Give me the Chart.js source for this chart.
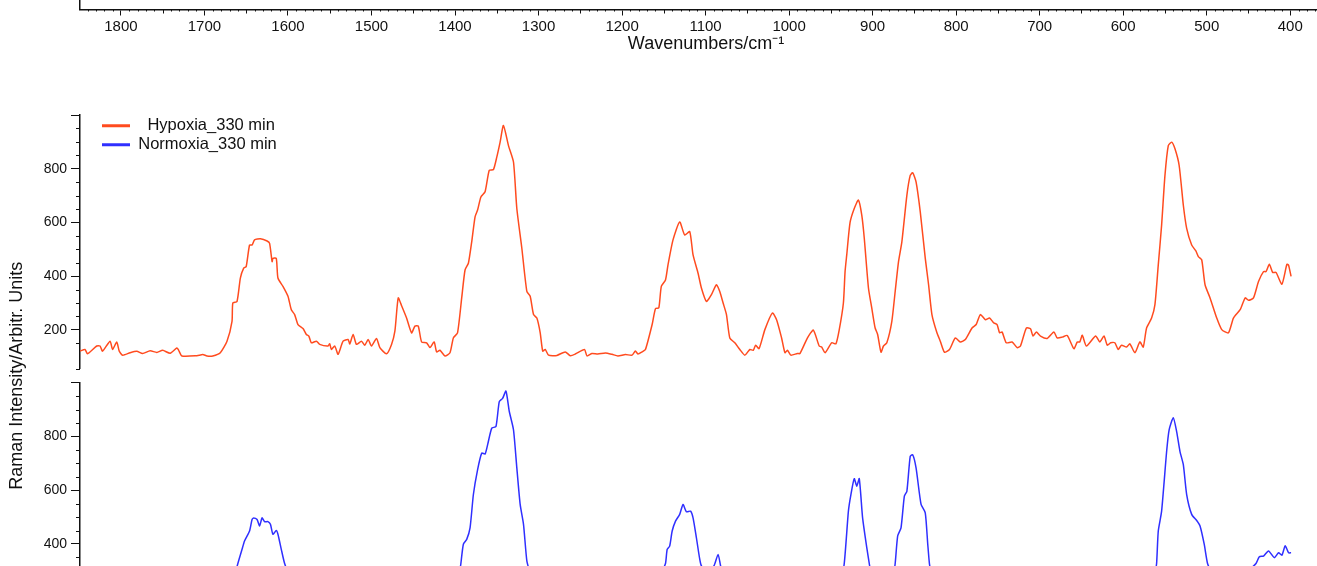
<!DOCTYPE html>
<html>
<head>
<meta charset="utf-8">
<title>Raman spectra</title>
<script src="https://cdn.jsdelivr.net/npm/chart.js@4.4.1/dist/chart.umd.min.js"></script>
<style>
	html, body { margin: 0; padding: 0; background: #fff; }
	body { position: relative; width: 1317px; height: 566px; overflow: hidden; }
	canvas { position: absolute; left: 0; }
	#chart-axis { top: 0; }
	#chart-spectra { top: 0; }
	#chart-legend { top: 115px; }
</style>
</head>
<body>
<canvas id="chart-axis" width="1340" height="60"></canvas>
<canvas id="chart-spectra" width="1340" height="649"></canvas>
<canvas id="chart-legend" width="330" height="80"></canvas>
<script>
//---------------------------------------------------------
// Data
//---------------------------------------------------------
const WAVE_MIN = 350;
const WAVE_MAX = 1849;
const X_LABEL_STEP = 100;

const Y_MIN = 55;
const Y_MAX = 1000;
const Y_LABELS = [200, 400, 600, 800];

const HYPOXIA_LABEL = "  Hypoxia_330 min";
const NORMOXIA_LABEL = "Normoxia_330 min";

const HYPOXIA_WAVE = [
	1849, 1843, 1840, 1829, 1825, 1822, 1813, 1810, 1805, 1802, 1798, 1789, 1781, 1774, 1765, 1757, 1750, 1741, 1733, 1731,
	1727, 1709, 1702, 1697, 1690, 1681, 1673, 1667, 1666, 1661, 1657, 1653, 1650, 1646, 1643, 1640, 1633, 1625, 1622, 1619,
	1618, 1614, 1612, 1606, 1600, 1596, 1592, 1588, 1582, 1578, 1575, 1572, 1566, 1562, 1552, 1550, 1548, 1544, 1540, 1534,
	1528, 1526, 1522, 1518, 1512, 1508, 1504, 1500, 1494, 1490, 1482, 1476, 1472, 1468, 1464, 1458, 1452, 1448, 1444, 1440,
	1434, 1430, 1425, 1422, 1418, 1412, 1406, 1402, 1397, 1392, 1388, 1384, 1380, 1376, 1373, 1369, 1364, 1359, 1354, 1350,
	1346, 1342, 1336, 1330, 1326, 1320, 1314, 1310, 1306, 1302, 1298, 1295, 1292, 1288, 1278, 1268, 1262, 1256, 1245, 1242,
	1236, 1229, 1220, 1212, 1205, 1196, 1188, 1184, 1181, 1176, 1172, 1164, 1160, 1156, 1153, 1148, 1145, 1139, 1131, 1125,
	1119, 1115, 1109, 1105, 1099, 1093, 1087, 1083, 1079, 1075, 1071, 1065, 1059, 1053, 1047, 1043, 1040, 1036, 1029, 1020,
	1015, 1009, 1005, 1002, 998, 990, 987, 978, 971, 964, 961, 957, 949, 944, 940, 935, 933, 931, 927, 922,
	917, 913, 910, 905, 901, 897, 894, 890, 887, 883, 877, 873, 869, 865, 859, 855, 852, 848, 843, 837,
	833, 829, 823, 819, 814, 808, 801, 795, 789, 781, 776, 771, 765, 760, 755, 751, 748, 745, 740, 733,
	727, 723, 716, 711, 708, 704, 699, 691, 683, 679, 673, 667, 659, 655, 652, 649, 644, 633, 628, 623,
	619, 615, 610, 606, 602, 596, 592, 586, 580, 576, 572, 566, 562, 558, 554, 550, 546, 542, 538, 533,
	528, 524, 518, 513, 510, 506, 502, 496, 488, 482, 474, 468, 460, 454, 450, 444, 438, 432, 429, 425,
	421, 417, 410, 404, 402, 399,
];

const HYPOXIA = [
	121, 127, 111, 140, 140, 121, 158, 127, 155, 121, 106, 115, 120, 112, 122, 116, 124, 113, 133, 125,
	103, 104, 108, 103, 103, 115, 158, 232, 300, 306, 393, 430, 436, 516, 516, 535, 539, 531, 522, 454,
	466, 466, 393, 362, 325, 275, 257, 220, 205, 183, 177, 152, 158, 146, 140, 148, 127, 140, 109, 158,
	164, 148, 183, 146, 158, 143, 164, 140, 168, 134, 111, 146, 195, 319, 290, 244, 189, 214, 214, 155,
	152, 134, 155, 118, 124, 103, 115, 170, 189, 319, 423, 448, 528, 621, 646, 695, 714, 794, 797, 843,
	899, 961, 886, 825, 652, 504, 343, 325, 257, 244, 189, 121, 127, 106, 105, 118, 104, 110, 127, 103,
	112, 110, 114, 109, 103, 108, 106, 121, 110, 118, 127, 220, 279, 282, 362, 386, 442, 535, 602, 553,
	566, 479, 411, 356, 306, 331, 368, 343, 300, 257, 170, 152, 127, 106, 127, 124, 143, 130, 201, 263,
	238, 170, 115, 124, 106, 112, 112, 170, 199, 140, 136, 115, 152, 148, 200, 300, 417, 479, 600, 652,
	683, 627, 541, 356, 281, 207, 183, 117, 140, 152, 232, 343, 454, 528, 701, 775, 785, 751, 640, 467,
	368, 257, 189, 158, 117, 127, 170, 155, 164, 207, 220, 257, 238, 244, 226, 220, 189, 192, 152, 155,
	134, 140, 207, 204, 177, 192, 177, 168, 192, 170, 173, 179, 130, 155, 155, 180, 140, 177, 155, 177,
	143, 152, 152, 127, 143, 136, 148, 115, 155, 136, 207, 244, 294, 442, 590, 775, 886, 899, 874, 812,
	664, 578, 516, 494, 473, 461, 368, 319, 244, 201, 189, 244, 275, 319, 310, 319, 380, 417, 417, 444,
	414, 414, 370, 444, 441, 399,
];

const NORMOXIA_WAVE = [
	1849, 1835, 1815, 1800, 1780, 1760, 1740, 1720, 1700, 1685, 1675, 1668, 1663, 1660, 1655, 1652, 1646, 1643, 1641, 1637,
	1634, 1631, 1628, 1624, 1621, 1618, 1614, 1612, 1608, 1604, 1598, 1590, 1580, 1570, 1555, 1540, 1525, 1510, 1490, 1478,
	1470, 1462, 1450, 1440, 1425, 1410, 1402, 1396, 1393, 1390, 1386, 1382, 1378, 1373, 1368, 1364, 1361, 1356, 1351, 1347,
	1343, 1339, 1335, 1330, 1326, 1322, 1318, 1314, 1310, 1305, 1298, 1292, 1280, 1260, 1240, 1220, 1200, 1180, 1168, 1160,
	1153, 1148, 1146, 1143, 1140, 1136, 1131, 1127, 1123, 1118, 1115, 1111, 1107, 1105, 1100, 1095, 1090, 1085, 1082, 1078,
	1072, 1062, 1052, 1042, 1030, 1020, 1012, 1004, 990, 978, 970, 962, 950, 941, 934, 929, 926, 922, 919, 916,
	912, 907, 904, 900, 896, 891, 886, 880, 876, 873, 870, 866, 862, 859, 855, 852, 848, 842, 837, 834,
	832, 828, 822, 815, 805, 790, 775, 765, 755, 745, 735, 720, 705, 690, 675, 660, 645, 630, 615, 600,
	588, 578, 568, 562, 560, 558, 554, 548, 545, 540, 536, 532, 528, 524, 518, 512, 508, 503, 499, 494,
	486, 478, 470, 462, 452, 445, 441, 437, 432, 426, 419, 414, 410, 406, 402, 399,
];

const NORMOXIA = [
	128, 122, 130, 110, 118, 112, 115, 108, 104, 110, 150, 230, 290, 327, 380, 411, 448, 491, 497, 491,
	467, 497, 483, 483, 473, 436, 450, 436, 380, 327, 280, 230, 190, 160, 140, 130, 155, 150, 140, 140,
	270, 240, 195, 160, 140, 112, 160, 260, 327, 399, 417, 460, 584, 676, 738, 735, 769, 831, 837, 930,
	942, 969, 893, 825, 683, 547, 473, 337, 290, 240, 170, 118, 106, 110, 108, 106, 110, 112, 130, 210,
	290, 327, 380, 392, 448, 485, 510, 547, 520, 522, 497, 423, 343, 318, 300, 305, 318, 361, 318, 280,
	175, 125, 108, 135, 190, 250, 200, 115, 110, 160, 190, 140, 145, 200, 327, 522, 584, 643, 615, 643,
	497, 386, 327, 250, 190, 118, 140, 180, 260, 327, 430, 460, 578, 596, 726, 732, 683, 547, 516, 399,
	327, 250, 170, 118, 160, 170, 230, 240, 225, 180, 150, 160, 190, 170, 175, 150, 155, 165, 150, 140,
	125, 150, 230, 290, 327, 448, 522, 744, 825, 870, 818, 744, 695, 584, 510, 487, 467, 399, 327, 290,
	230, 195, 200, 250, 300, 315, 327, 352, 355, 374, 349, 367, 358, 393, 367, 367,
];

//---------------------------------------------------------
// Style
//---------------------------------------------------------
const FONT = '"Liberation Sans", Arial, sans-serif';
const INK = "#111111";
const ORANGE = "#ff4b1f";
const BLUE = "#2f2fff";

Chart.defaults.font.family = FONT;
Chart.defaults.color = INK;

const toPoints = (waves, values) => waves.map((x, i) => ({ x, y: values[i] }));

// Short ticks for the unlabelled steps, drawn from the scale itself
const minorTicks = (rules) => ({
	id: "minorTicks",
	afterDraw(chart) {
		const { ctx } = chart;
		ctx.save();
		ctx.strokeStyle = INK;
		ctx.lineWidth = 1;
		ctx.beginPath();
		Object.keys(rules).forEach((id) => {
			const scale = chart.scales[id];
			scale.ticks.forEach((tick) => {
				const size = rules[id](Math.round(tick.value));
				if (!size) return;
				const p = Math.round(scale.getPixelForValue(tick.value)) + 0.5;
				if (scale.isHorizontal()) {
					ctx.moveTo(p, scale.top);
					ctx.lineTo(p, scale.top + size);
				} else {
					ctx.moveTo(scale.right, p);
					ctx.lineTo(scale.right - size, p);
				}
			});
		});
		ctx.stroke();
		ctx.restore();
	},
});

const isMajorX = (v) => Math.round(v) % X_LABEL_STEP === 0;
const isMajorY = (v) => Math.round(v) % 200 === 0;

//---------------------------------------------------------
// Wavenumber axis (bottom of the panel above)
//---------------------------------------------------------
new Chart(document.getElementById("chart-axis"), {
	type: "line",
	data: { datasets: [] },
	options: {
		responsive: false,
		animation: false,
		events: [],
		layout: { padding: { left: 0, right: 8, top: 0, bottom: 0 } },
		plugins: { legend: { display: false }, tooltip: { enabled: false } },
		scales: {
			x: {
				type: "linear",
				reverse: true,
				min: WAVE_MIN,
				max: WAVE_MAX,
				border: { color: INK, width: 1.5 },
				grid: {
					drawOnChartArea: false,
					tickLength: 6,
					tickColor: (c) => (c.tick && isMajorX(c.tick.value) ? INK : "transparent"),
				},
				ticks: {
					stepSize: 10,
					autoSkip: false,
					includeBounds: false,
					maxRotation: 0,
					padding: 2,
					color: INK,
					font: { size: 15 },
					callback: (v) => (isMajorX(v) ? v : ""),
				},
				title: {
					display: true,
					text: "Wavenumbers/cm⁻¹",
					color: INK,
					font: { size: 18 },
					padding: { top: 0, bottom: 5 },
				},
				afterFit: (s) => {
					s.height = 50.5;
				},
			},
			y: {
				min: 0,
				max: 1,
				border: { color: INK, width: 1.5 },
				grid: { display: false },
				ticks: { display: false },
				afterFit: (s) => {
					s.width = 80;
				},
			},
		},
	},
	plugins: [minorTicks({ x: (v) => (v % 100 === 0 ? 0 : v % 50 === 0 ? 4 : 2) })],
});

//---------------------------------------------------------
// Spectra, two stacked panels
//---------------------------------------------------------
const panelAxis = (weight) => ({
	type: "linear",
	position: "left",
	stack: "panels",
	stackWeight: 255,
	weight,
	min: Y_MIN,
	max: Y_MAX,
	border: { color: INK, width: 1.5 },
	grid: {
		drawOnChartArea: false,
		tickLength: 9,
		tickColor: (c) => (c.tick && isMajorY(c.tick.value) ? INK : "transparent"),
	},
	ticks: {
		stepSize: 50,
		autoSkip: false,
		padding: 4,
		color: INK,
		font: { size: 14 },
		callback: (v) => (Y_LABELS.includes(Math.round(v)) ? v : ""),
	},
	afterFit: (s) => {
		s.width = 80;
	},
});

new Chart(document.getElementById("chart-spectra"), {
	type: "line",
	data: {
		datasets: [
			{
				label: HYPOXIA_LABEL,
				data: toPoints(HYPOXIA_WAVE, HYPOXIA),
				yAxisID: "yTop",
				borderColor: ORANGE,
				borderWidth: 1.5,
				pointRadius: 0,
				tension: 0.2,
			},
			{
				label: NORMOXIA_LABEL,
				data: toPoints(NORMOXIA_WAVE, NORMOXIA),
				yAxisID: "yBot",
				borderColor: BLUE,
				borderWidth: 1.5,
				pointRadius: 0,
				tension: 0.2,
			},
		],
	},
	options: {
		responsive: false,
		animation: false,
		events: [],
		layout: { padding: { left: 0, right: 8, top: 115, bottom: 10 } },
		plugins: { legend: { display: false }, tooltip: { enabled: false } },
		scales: {
			x: { type: "linear", display: false, reverse: true, min: WAVE_MIN, max: WAVE_MAX },
			yTop: panelAxis(3),
			yGap: {
				type: "linear",
				position: "left",
				stack: "panels",
				stackWeight: 14,
				weight: 2,
				grid: { display: false },
				border: { display: false },
				ticks: { display: false },
				title: {
					display: true,
					text: "Raman Intensity/Arbitr. Units",
					color: INK,
					font: { size: 18 },
					padding: { top: 6, bottom: 0 },
				},
				afterFit: (s) => {
					s.width = 80;
				},
			},
			yBot: panelAxis(1),
		},
	},
	plugins: [minorTicks({ yTop: (v) => (isMajorY(v) ? 0 : 4), yBot: (v) => (isMajorY(v) ? 0 : 4) })],
});

//---------------------------------------------------------
// Legend
//---------------------------------------------------------
new Chart(document.getElementById("chart-legend"), {
	type: "line",
	data: {
		datasets: [
			{ label: HYPOXIA_LABEL, data: [], borderColor: ORANGE, borderWidth: 3 },
			{ label: NORMOXIA_LABEL, data: [], borderColor: BLUE, borderWidth: 3 },
		],
	},
	options: {
		responsive: false,
		animation: false,
		events: [],
		layout: { padding: { left: 99.5, top: 0 } },
		scales: { x: { display: false }, y: { display: false } },
		plugins: {
			tooltip: { enabled: false },
			legend: {
				position: "top",
				align: "start",
				labels: {
					usePointStyle: true,
					pointStyle: "line",
					pointStyleWidth: 28,
					padding: 2.5,
					color: INK,
					font: { size: 16.5 },
				},
			},
		},
	},
});
</script>
</body>
</html>
